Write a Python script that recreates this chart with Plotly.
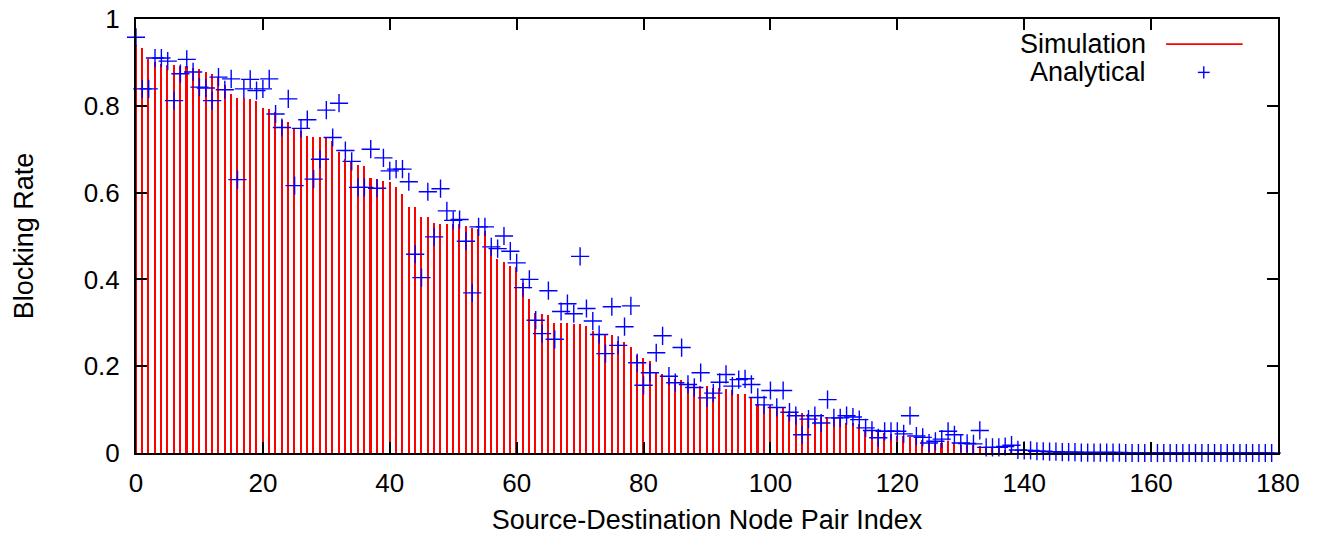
import plotly.graph_objects as go

# pair index 0..179
indices = list(range(180))

# simulated blocking rate (red impulses)
simulation = [
    0.940, 0.933, 0.907, 0.901, 0.897, 0.895, 0.894, 0.891, 0.891, 0.887,
    0.885, 0.878, 0.874, 0.866, 0.849, 0.827, 0.818, 0.817, 0.816, 0.812,
    0.795, 0.793, 0.785, 0.768, 0.762, 0.748, 0.743, 0.730, 0.727, 0.727,
    0.727, 0.720, 0.694, 0.677, 0.673, 0.663, 0.662, 0.633, 0.631, 0.627,
    0.625, 0.612, 0.597, 0.567, 0.566, 0.544, 0.544, 0.529, 0.527, 0.527,
    0.527, 0.527, 0.523, 0.519, 0.515, 0.511, 0.473, 0.448, 0.440, 0.432,
    0.428, 0.392, 0.354, 0.323, 0.321, 0.319, 0.300, 0.300, 0.300, 0.298,
    0.298, 0.293, 0.281, 0.273, 0.272, 0.271, 0.258, 0.256, 0.245, 0.225,
    0.220, 0.212, 0.187, 0.183, 0.173, 0.171, 0.168, 0.163, 0.160, 0.155,
    0.154, 0.150, 0.150, 0.148, 0.145, 0.137, 0.135, 0.129, 0.114, 0.111,
    0.111, 0.106, 0.104, 0.096, 0.092, 0.092, 0.091, 0.085, 0.083, 0.082,
    0.081, 0.080, 0.070, 0.070, 0.066, 0.054, 0.050, 0.050, 0.046, 0.043,
    0.040, 0.039, 0.037, 0.035, 0.031, 0.027, 0.023, 0.023, 0.027, 0.023,
    0.019, 0.019, 0.019, 0.015, 0.011, 0.011, 0.011, 0.008, 0.008, 0.006,
    0.005, 0.005, 0.004, 0.004, 0.003, 0.003, 0.002, 0.002, 0.002, 0.002,
    0.001, 0.001, 0.001, 0.001, 0.001, 0.001, 0.001, 0.001, 0.001, 0.001,
    0.000, 0.000, 0.000, 0.000, 0.000, 0.000, 0.000, 0.000, 0.000, 0.000,
    0.000, 0.000, 0.000, 0.000, 0.000, 0.000, 0.000, 0.000, 0.000, 0.000,
]

# analytical blocking rate (blue crosses)
analytical = [
    0.958, 0.839, 0.839, 0.910, 0.910, 0.903, 0.812, 0.874, 0.907, 0.878,
    0.843, 0.841, 0.812, 0.866, 0.837, 0.862, 0.630, 0.839, 0.861, 0.835,
    0.839, 0.862, 0.781, 0.750, 0.816, 0.616, 0.748, 0.768, 0.631, 0.677,
    0.790, 0.727, 0.806, 0.697, 0.672, 0.612, 0.612, 0.700, 0.610, 0.680,
    0.650, 0.654, 0.654, 0.625, 0.458, 0.404, 0.602, 0.498, 0.609, 0.558,
    0.536, 0.538, 0.488, 0.369, 0.521, 0.521, 0.475, 0.471, 0.500, 0.465,
    0.438, 0.381, 0.400, 0.306, 0.275, 0.374, 0.262, 0.326, 0.344, 0.321,
    0.453, 0.333, 0.304, 0.273, 0.229, 0.337, 0.248, 0.291, 0.339, 0.208,
    0.156, 0.185, 0.231, 0.270, 0.177, 0.162, 0.243, 0.158, 0.151, 0.185,
    0.127, 0.138, 0.163, 0.181, 0.154, 0.169, 0.171, 0.158, 0.128, 0.111,
    0.144, 0.105, 0.144, 0.094, 0.086, 0.042, 0.078, 0.086, 0.069, 0.123,
    0.081, 0.081, 0.086, 0.083, 0.077, 0.058, 0.052, 0.035, 0.050, 0.050,
    0.050, 0.044, 0.086, 0.039, 0.036, 0.023, 0.027, 0.032, 0.050, 0.042,
    0.023, 0.022, 0.021, 0.052, 0.013, 0.013, 0.013, 0.015, 0.018, 0.007,
    0.006, 0.006, 0.004, 0.004, 0.003, 0.003, 0.002, 0.002, 0.002, 0.001,
    0.001, 0.001, 0.001, 0.001, 0.001, 0.001, 0.000, 0.000, 0.000, 0.000,
    0.000, 0.000, 0.000, 0.000, 0.000, 0.000, 0.000, 0.000, 0.000, 0.000,
    0.000, 0.000, 0.000, 0.000, 0.000, 0.000, 0.000, 0.000, 0.000, 0.000,
]

FONT = "Liberation Sans, Arial, Helvetica, sans-serif"

fig = go.Figure()

# impulses as thin bars
fig.add_trace(go.Bar(
    x=indices, y=simulation, width=0.24,
    marker=dict(color="#ff0000", line=dict(width=0)),
    name="Simulation", showlegend=False,
))

fig.add_trace(go.Scatter(
    x=indices, y=analytical, mode="markers",
    marker=dict(symbol="cross-thin", size=13, line=dict(color="#0000ff", width=1.4)),
    name="Analytical", showlegend=False, cliponaxis=False,
))

# gnuplot style key, text on the left of the sample
key_text = dict(xref="paper", yref="paper", xanchor="right", yanchor="middle",
                showarrow=False, font=dict(family=FONT, size=27, color="black"))
fig.add_annotation(x=0.886, y=0.942, text="Simulation", **key_text)
fig.add_annotation(x=0.886, y=0.877, text="Analytical", **key_text)
fig.add_shape(type="line", xref="paper", yref="paper", x0=0.902, x1=0.969,
              y0=0.942, y1=0.942, line=dict(color="#ff0000", width=1.6))
fig.add_shape(type="line", xref="paper", yref="paper", x0=0.9298, x1=0.9402,
              y0=0.877, y1=0.877, line=dict(color="#0000ff", width=1.4))
fig.add_shape(type="line", xref="paper", yref="paper", x0=0.935, x1=0.935,
              y0=0.863, y1=0.891, line=dict(color="#0000ff", width=1.4))

axis_common = dict(
    showline=True, linecolor="black", linewidth=2, mirror="ticks",
    ticks="inside", ticklen=11, tickwidth=1.5, tickcolor="black",
    showgrid=False, zeroline=False, automargin=False,
    tickfont=dict(family=FONT, size=26, color="black"),
    title_font=dict(family=FONT, size=27, color="black"),
)

fig.update_layout(
    width=1317, height=535,
    margin=dict(l=136, r=39, t=19, b=82),
    paper_bgcolor="white", plot_bgcolor="white",
    bargap=0,
    xaxis=dict(range=[0, 180], tick0=0, dtick=20,
               title=dict(text="Source-Destination Node Pair Index", standoff=14),
               ticklabelstandoff=6, **axis_common),
    yaxis=dict(range=[0, 1], tick0=0, dtick=0.2,
               title=dict(text="Blocking Rate", standoff=42),
               ticklabelstandoff=9, **axis_common),
)

# drop the default 8px page margin so the figure fills the window
fig.write_html("out.html", config={"displayModeBar": False},
               post_script="document.body.style.margin='0px';")
